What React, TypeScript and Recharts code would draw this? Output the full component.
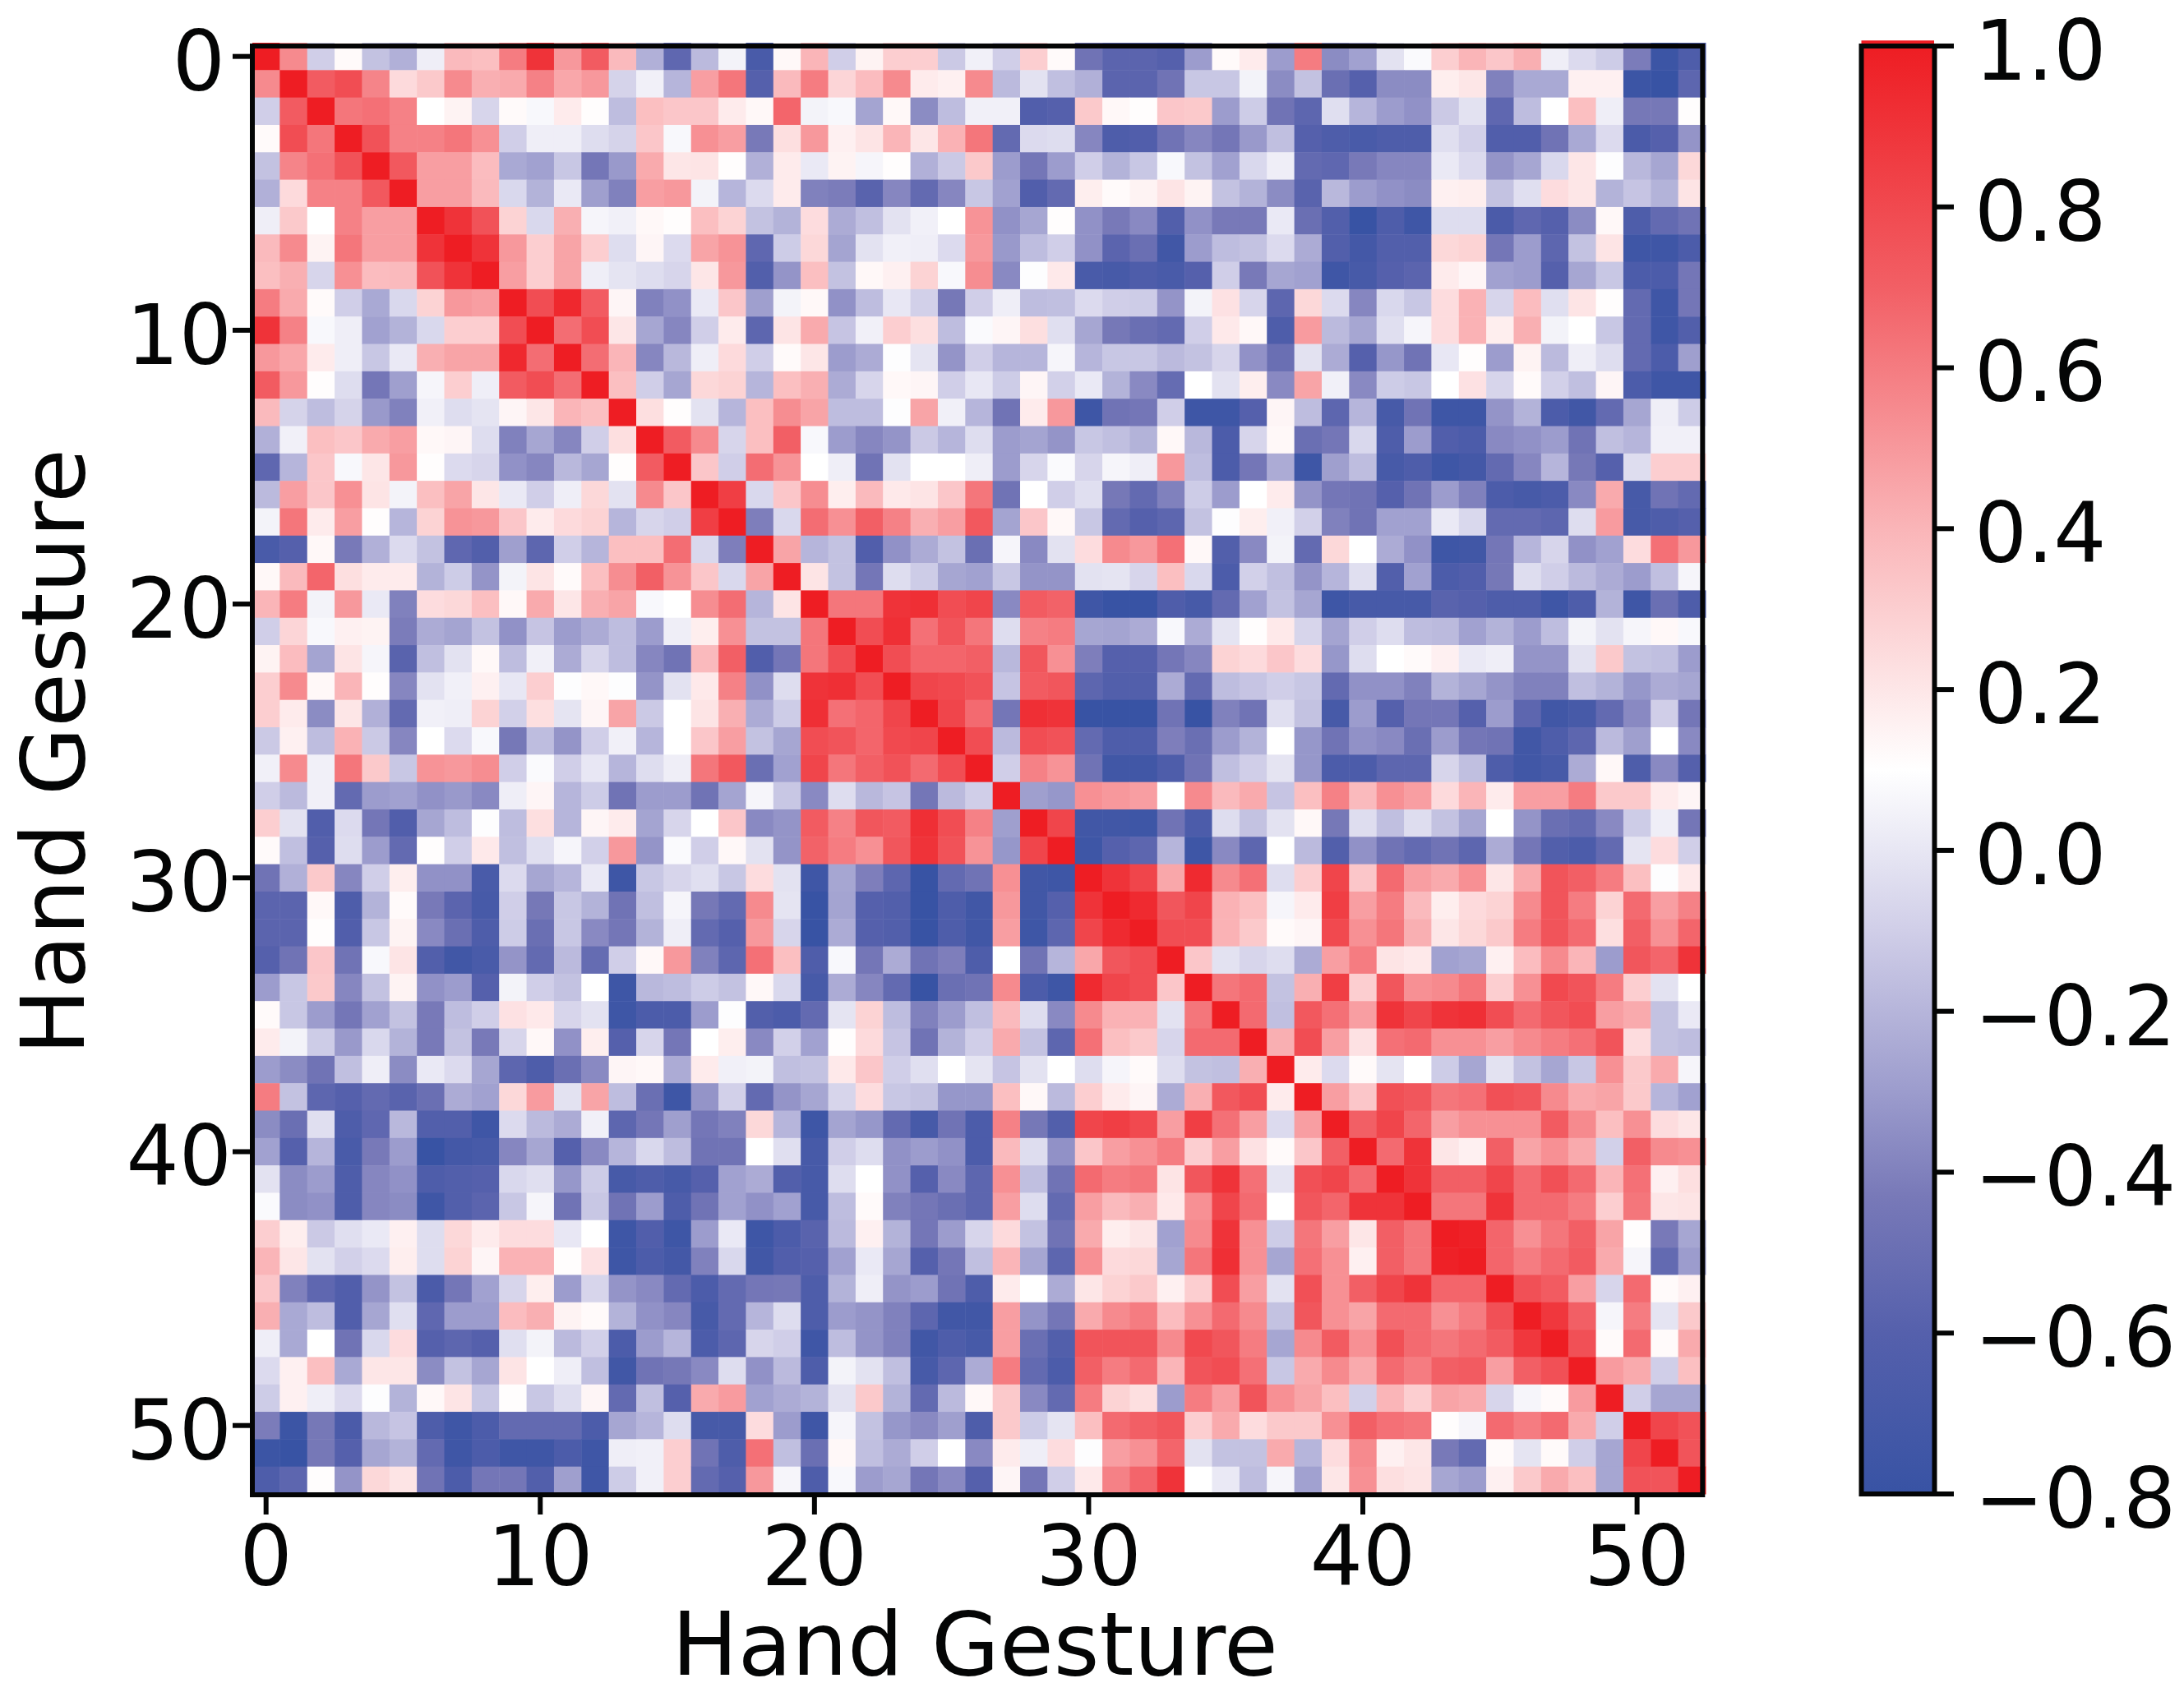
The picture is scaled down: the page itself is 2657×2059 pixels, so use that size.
import { Bar, BarChart, Cell, Label, ReferenceArea, Scatter, ScatterChart, XAxis, YAxis } from 'recharts';

const FONT = '"DejaVu Sans"';
const GESTURE_TICKS = [0, 10, 20, 30, 40, 50];
const COLORBAR_TICKS = [-0.8, -0.6, -0.4, -0.2, 0, 0.2, 0.4, 0.6, 0.8, 1];

// value -> colour stops
const STOP_VALUES = [-0.8, -0.6, -0.43, -0.3, -0.1, 0.1, 0.4, 0.7, 1];
const STOP_COLORS = ['#3853A4', '#5560AC', '#7879B8', '#9C9CCD', '#D0CEE8', '#FFFFFF', '#FAB5B8', '#F25F65', '#EE1D23'];

// upper triangle of the correlation matrix, each row starts on the diagonal
const upperRows: number[][] = [
  [1, .55, -.1, .12, -.15, -.22, .03, .38, .36, .6, .9, .5, .72, .38, -.22, -.55, -.18, .05, -.68, .13, .4, -.1, .15, .3, .3, -.12, .04, -.1, .3, .12, -.47, -.57, -.57, -.6, -.3, .12, .18, -.3, .6, -.36, -.28, -.02, .08, .3, .4, .33, .42, .03, -.05, -.11, -.42, -.77, -.65],
  [1, .72, .78, .57, .25, .32, .55, .42, .44, .58, .45, .5, -.08, .04, -.2, .48, .62, -.6, .38, .6, .27, .37, .55, .18, .16, .55, -.18, -.02, -.16, -.22, -.57, -.57, -.47, -.13, -.13, .05, -.36, -.15, -.5, -.6, -.36, -.36, .17, .2, -.4, -.25, -.25, .16, .16, -.77, -.8, -.56],
  [1, .62, .64, .58, .1, .15, -.07, .12, .07, .18, .11, -.17, .36, .33, .33, .18, .13, .68, .05, .07, -.27, .13, -.36, -.17, .04, .04, -.63, -.6, .32, .13, .11, .33, .32, -.3, -.11, -.47, -.56, -.03, -.2, -.3, -.34, -.12, -.02, -.55, -.17, .1, .36, .03, -.44, -.44, .11],
  [1, .76, .58, .58, .62, .53, -.1, .03, .03, -.04, -.08, .33, .07, .53, .48, -.43, .23, .5, .16, .21, .4, .2, .41, .62, -.53, -.05, -.04, -.38, -.65, -.63, -.47, -.38, -.45, -.31, -.16, -.6, -.65, -.68, -.65, -.65, -.03, -.09, -.63, -.63, -.47, -.25, -.05, -.67, -.6, -.33],
  [1, .73, .48, .48, .37, -.25, -.28, -.13, -.45, -.31, .44, .2, .21, .11, -.22, .18, .01, .15, .06, .11, -.22, -.12, .32, -.3, -.45, -.3, -.1, -.21, -.13, .07, -.15, -.28, -.06, .03, -.53, -.55, -.43, -.38, -.38, .01, -.05, -.33, -.26, -.06, .2, .09, -.19, -.26, .26],
  [1, .48, .48, .38, -.06, -.21, .01, -.29, -.4, .48, .5, .05, -.2, -.05, .18, -.4, -.42, -.58, -.38, -.53, -.38, -.13, -.28, -.63, -.53, .17, .12, .15, .21, .15, -.15, -.21, -.36, -.58, -.19, -.3, -.34, -.36, .16, .17, -.15, -.03, .24, .2, -.21, -.14, -.21, .21],
  [1, .9, .76, .28, -.06, .42, .06, .04, .13, .11, .36, .28, -.15, -.21, .24, -.24, -.16, -.02, .04, .1, .52, -.34, -.26, .11, -.34, -.43, -.37, -.62, -.34, -.43, -.43, .01, -.5, -.62, -.8, -.65, -.75, -.04, -.04, -.67, -.55, -.6, -.36, .13, -.65, -.53, -.47],
  [1, .9, .5, .3, .46, .3, -.04, .14, -.05, .46, .52, -.55, -.11, .26, -.27, -.02, .04, .03, -.05, .5, -.31, -.17, -.1, -.34, -.57, -.5, -.74, -.3, -.17, -.15, -.05, -.24, -.62, -.72, -.62, -.62, .26, .28, -.45, -.3, -.56, -.15, .21, -.75, -.75, -.66],
  [1, .48, .3, .46, .03, -.01, -.04, -.07, .2, .5, -.62, -.33, .36, -.15, .13, .16, .28, .07, .54, -.37, .09, .19, -.68, -.7, -.65, -.68, -.6, -.1, -.43, -.26, -.28, -.75, -.7, -.6, -.57, .18, .14, -.28, -.3, -.6, -.26, -.13, -.66, -.66, -.45],
  [1, .78, .95, .72, .14, -.4, -.34, .01, .33, -.29, .05, .13, -.34, -.17, 0, -.09, -.44, -.1, .03, -.17, -.16, -.05, -.1, -.11, -.33, .05, .22, -.07, -.56, .26, -.05, -.38, -.06, -.13, .24, .41, -.07, .37, -.03, .21, .11, -.53, -.75, -.45],
  [1, .65, .78, .2, -.26, -.38, -.1, .18, -.56, .21, .44, -.14, .04, .3, .23, -.17, .08, .14, .23, -.03, -.26, -.44, -.5, -.53, -.1, .19, .13, -.65, .49, -.18, -.26, -.03, .06, .24, .41, .17, .42, .05, .1, -.13, -.53, -.75, -.62],
  [1, .65, .4, -.38, -.19, .03, .25, -.1, .12, .2, -.3, -.24, .09, -.01, -.33, -.1, -.2, -.2, .06, -.2, -.13, -.13, -.18, -.15, -.07, -.34, -.5, -.02, -.24, -.6, -.32, -.47, 0, .11, -.3, .15, -.18, .03, -.04, -.53, -.66, -.29],
  [1, .36, -.1, -.26, .26, .28, -.2, .36, .42, -.24, -.07, .13, .14, -.1, 0, -.11, .14, -.09, .01, -.21, -.37, -.52, .1, -.02, .17, -.37, .46, .04, -.37, -.11, -.13, .1, .22, -.07, .12, -.09, -.16, .14, -.66, -.75, -.75],
  [1, .23, .11, -.02, -.2, .36, .54, .46, -.17, -.17, .09, .46, .04, -.2, -.47, .18, .5, -.76, -.47, -.45, -.1, -.76, -.76, -.6, .14, -.17, -.56, -.2, -.7, -.47, -.76, -.76, -.33, -.21, -.66, -.74, -.53, -.26, .03, -.11],
  [1, .72, .55, -.07, .36, .7, .07, -.3, -.38, -.33, -.12, -.2, -.04, -.3, -.27, -.33, -.13, -.16, -.21, .13, -.19, -.66, -.07, .13, -.5, -.45, -.06, -.65, -.3, -.63, -.66, -.37, -.34, -.3, -.47, -.16, -.2, .04, .04],
  [1, .33, -.1, .65, .52, .1, .03, -.47, -.02, .1, .1, .03, -.3, -.07, .08, -.07, .06, .03, .5, -.17, -.66, -.45, -.24, -.76, -.29, -.17, -.7, -.65, -.76, -.72, -.53, -.38, -.2, -.44, -.6, -.04, .3, .3],
  [1, .85, -.06, .33, .54, .17, .38, .19, .21, .33, .62, -.47, .1, -.1, -.03, -.44, -.53, -.4, -.11, -.3, .1, .18, -.33, -.45, -.47, -.6, -.47, -.3, -.4, -.66, -.7, -.66, -.37, .44, -.7, -.47, -.53],
  [1, -.41, -.06, .65, .53, .7, .58, .42, .48, .73, -.27, .33, .13, -.13, -.53, -.6, -.56, -.15, .09, .17, .04, -.09, -.4, -.47, -.28, -.28, .01, -.06, -.53, -.53, -.56, -.04, .49, -.7, -.65, -.6],
  [1, .46, -.2, -.15, -.63, -.34, -.24, -.15, -.5, .06, -.37, -.02, .24, .55, .5, .64, .13, -.62, -.37, .05, -.53, .26, .1, -.24, -.34, -.76, -.74, -.45, -.2, -.07, -.34, -.28, .24, .64, .5],
  [1, .21, -.15, -.45, -.04, -.11, -.26, -.28, -.13, -.33, -.33, -.02, -.01, -.07, .36, -.06, -.66, -.09, -.16, -.33, -.2, -.03, -.62, -.28, -.66, -.63, -.44, -.04, -.1, -.18, -.24, -.3, -.16, .06],
  [1, .62, .62, .9, .92, .78, .82, -.37, .72, .69, -.75, -.8, -.8, -.64, -.7, -.53, -.28, -.15, -.26, -.76, -.7, -.7, -.7, -.58, -.6, -.65, -.65, -.75, -.65, -.21, -.75, -.5, -.65],
  [1, .78, .92, .64, .75, .62, -.04, .58, .6, -.26, -.27, -.24, .07, -.24, -.01, .11, .19, -.07, -.27, -.1, -.04, -.17, -.18, -.28, -.21, -.3, -.17, .05, -.02, .06, .13, .07],
  [1, .78, .68, .68, .7, -.19, .74, .53, -.41, -.6, -.6, -.45, -.38, .28, .25, .33, .24, -.32, -.04, .1, .12, .16, .01, .03, -.33, -.33, -.02, .32, -.15, -.16, -.3],
  [1, .82, .8, .76, -.14, .72, .74, -.56, -.62, -.62, -.24, -.53, -.17, -.14, -.1, -.13, -.53, -.34, -.34, -.4, -.21, -.26, -.33, -.4, -.4, -.16, -.21, -.32, -.24, -.26],
  [1, .82, .66, -.45, .92, .9, -.8, -.8, -.8, -.47, -.8, -.4, -.47, -.03, -.15, -.7, -.3, -.6, -.45, -.45, -.6, -.3, -.56, -.74, -.7, -.53, -.37, -.1, -.45],
  [1, .78, -.18, .78, .76, -.53, -.65, -.65, -.41, -.5, -.3, -.21, .1, -.32, -.47, -.34, -.37, -.5, -.3, -.45, -.47, -.74, -.65, -.56, -.18, -.29, .1, -.37],
  [1, -.1, .58, .52, -.47, -.74, -.74, -.65, -.47, -.16, -.1, -.01, -.32, -.66, -.66, -.56, -.56, -.07, -.16, -.65, -.74, -.7, -.24, .13, -.65, -.37, -.6],
  [1, -.29, -.32, .53, .5, .48, .1, .55, .38, .44, -.14, .36, .58, .38, .53, .48, .25, .4, .18, .48, .48, .6, .32, .32, .18, .14],
  [1, .82, -.74, -.74, -.76, -.47, -.66, -.04, -.15, -.02, .13, -.44, -.04, -.16, -.04, -.15, -.26, .1, -.33, -.5, -.53, -.37, -.11, .03, -.45],
  [1, -.76, -.6, -.56, -.2, -.76, -.37, -.56, .1, -.18, -.62, -.34, -.47, -.53, -.47, -.56, -.24, -.45, -.62, -.66, -.53, -.01, .24, -.1],
  [1, .9, .82, .45, .94, .55, .64, -.04, .3, .82, .33, .66, .48, .44, .53, .2, .44, .75, .7, .6, .36, .09, .19],
  [1, .94, .74, .82, .41, .36, .06, .18, .85, .48, .6, .38, .17, .25, .28, .55, .75, .6, .28, .66, .48, .58],
  [1, .78, .78, .41, .32, .12, .14, .8, .53, .62, .42, .2, .26, .32, .6, .75, .66, .23, .7, .53, .68],
  [1, .33, -.02, -.07, -.04, -.24, .48, .6, .21, .19, -.28, -.26, .16, .37, .55, .4, -.3, .74, .68, .9],
  [1, .62, .66, -.15, .42, .85, .3, .74, .53, .55, .62, .3, .53, .8, .75, .6, .3, -.02, .1],
  [1, .66, -.16, .73, .64, .48, .9, .82, .9, .92, .78, .66, .74, .78, .48, .44, -.15, .01],
  [1, .42, .78, .48, .22, .64, .66, .53, .53, .48, .55, .6, .64, .75, .24, -.15, -.17],
  [1, .18, -.05, .12, -.01, .1, -.11, -.26, -.02, -.15, -.26, -.13, .53, .32, .44, .06],
  [1, .48, .33, .77, .74, .62, .64, .77, .74, .55, .44, .46, .32, -.2, -.28],
  [1, .7, .82, .68, .48, .53, .53, .53, .72, .55, .36, .53, .24, .2],
  [1, .66, .9, .2, .16, .7, .46, .53, .44, -.09, .7, .55, .53],
  [1, .9, .7, .7, .82, .66, .77, .66, .4, .64, .16, .23],
  [1, .62, .62, .9, .66, .66, .6, .3, .62, .2, .21],
  [1, .98, .68, .53, .62, .7, .46, .11, -.43, -.26],
  [1, .68, .6, .66, .72, .44, .06, -.53, -.3],
  [1, .77, .72, .48, -.07, .66, .12, .16],
  [1, .88, .7, .06, .6, -.01, .32],
  [1, .77, .12, .66, .12, .44],
  [1, .49, .44, -.1, .36],
  [1, -.1, -.26, -.26],
  [1, .82, .76],
  [1, .75],
  [1],
];

const hexToRgb = (hex: string) => [1, 3, 5].map((i) => parseInt(hex.slice(i, i + 2), 16));

function colorOf(v: number) {
  const clamped = Math.max(STOP_VALUES[0], Math.min(1, v));
  let i = 0;
  while (i < STOP_VALUES.length - 2 && clamped > STOP_VALUES[i + 1]) i++;
  const t = (clamped - STOP_VALUES[i]) / (STOP_VALUES[i + 1] - STOP_VALUES[i]);
  const a = hexToRgb(STOP_COLORS[i]);
  const b = hexToRgb(STOP_COLORS[i + 1]);
  const c = a.map((ch, k) => Math.round(ch + (b[k] - ch) * t));
  return `rgb(${c[0]},${c[1]},${c[2]})`;
}

// the matrix is symmetric, so mirror each upper value
const cells: { x: number; y: number; v: number }[] = [];
upperRows.forEach((row, r) => {
  row.forEach((v, i) => {
    cells.push({ x: r + i, y: r, v });
    if (i > 0) cells.push({ x: r, y: r + i, v });
  });
});

const PLOT_W = 1768;
const PLOT_H = 1766;
const CELL_W = PLOT_W / 53;
const CELL_H = PLOT_H / 53;
const INK = '#040505';
const TICK_SIZE = 101;
const TITLE_SIZE = 107;

const HeatCell = (props: any) => {
  const { cx, cy, payload } = props;
  return (
    <rect
      x={cx - CELL_W / 2}
      y={cy - CELL_H / 2}
      width={CELL_W + 0.5}
      height={CELL_H + 0.5}
      fill={colorOf(payload.v)}
    />
  );
};

const NoMark = () => null;

const tickLine = { stroke: INK, strokeWidth: 6 };
const xTickStyle = { fontSize: TICK_SIZE, fill: INK, fontFamily: FONT };

const formatBarTick = (v: number) => (v < 0 ? `\u2212${Math.abs(v).toFixed(1)}` : v.toFixed(1));

// the reference's vertical tick labels sit a little under their tick marks
const SideTick = ({ x, y, payload, anchor, format, zeroShift = 0 }: any) => (
  <text
    x={payload.value === 0 ? x + zeroShift : x}
    y={y + TICK_SIZE * 0.365 + 4}
    textAnchor={anchor}
    fontSize={TICK_SIZE}
    fill={INK}
    fontFamily={FONT}
  >
    {format ? format(payload.value) : payload.value}
  </text>
);

const colorbarData = [{ name: 'corr', range: [-0.8, 1] }];

export default function App() {
  return (
    <div style={{ position: 'absolute', left: 0, top: 0, width: 2657, height: 2059, background: '#fff', overflow: 'hidden' }}>
      <div style={{ position: 'absolute', left: 0, top: 0 }}>
        <ScatterChart
          width={2200}
          height={2059}
          margin={{ top: 52, right: 2200 - 307 - PLOT_W, bottom: 0, left: 0 }}
        >
          <XAxis
            type="number"
            dataKey="x"
            domain={[-0.5, 52.5]}
            ticks={GESTURE_TICKS}
            interval={0}
            height={2059 - 52 - PLOT_H}
            axisLine={false}
            tickLine={tickLine}
            tickSize={25}
            tickMargin={14}
            tick={xTickStyle}
          >
            <Label
              value="Hand Gesture"
              position="insideBottom"
              offset={21}
              dx={-5}
              style={{ fontSize: TITLE_SIZE, fill: INK, fontFamily: FONT }}
            />
          </XAxis>
          <YAxis
            type="number"
            dataKey="y"
            domain={[-0.5, 52.5]}
            reversed
            ticks={GESTURE_TICKS}
            interval={0}
            width={307}
            axisLine={false}
            tickLine={tickLine}
            tickSize={24}
            tickMargin={1}
            tick={<SideTick anchor="end" zeroShift={-8} />}
          >
            <Label
              value="Hand Gesture"
              angle={-90}
              position="insideLeft"
              offset={64}
              dy={-20}
              style={{ fontSize: TITLE_SIZE, fill: INK, fontFamily: FONT, textAnchor: 'middle' }}
            />
          </YAxis>
          <Scatter data={cells} shape={HeatCell} isAnimationActive={false} />
        </ScatterChart>
      </div>
      {/* spine goes in its own layer so it stays on top of the cells */}
      <div style={{ position: 'absolute', left: 0, top: 0, pointerEvents: 'none' }}>
        <ScatterChart
          width={2200}
          height={2059}
          margin={{ top: 52, right: 2200 - 307 - PLOT_W, bottom: 2059 - 52 - PLOT_H, left: 307 }}
        >
          <XAxis type="number" dataKey="x" domain={[-0.5, 52.5]} hide />
          <YAxis type="number" dataKey="y" domain={[-0.5, 52.5]} reversed hide />
          <Scatter data={[{ x: 0, y: 0 }, { x: 52, y: 52 }]} shape={NoMark} isAnimationActive={false} />
          <ReferenceArea
            x1={-0.5}
            x2={52.39}
            y1={-0.38}
            y2={52.53}
            ifOverflow="visible"
            fill="none"
            fillOpacity={0}
            strokeOpacity={1}
            stroke={INK}
            strokeWidth={6}
          />
        </ScatterChart>
      </div>
      <div style={{ position: 'absolute', left: 2200, top: 0 }}>
        <BarChart
          width={457}
          height={2059}
          data={colorbarData}
          margin={{ top: 56, right: 0, bottom: 241, left: 64.5 }}
          barCategoryGap={0}
        >
          <defs>
            <linearGradient id="cbGradient" x1="0" y1="1" x2="0" y2="0">
              {STOP_VALUES.map((v, i) => (
                <stop key={v} offset={(v + 0.8) / 1.8} stopColor={STOP_COLORS[i]} />
              ))}
            </linearGradient>
          </defs>
          <XAxis dataKey="name" hide />
          <YAxis
            orientation="right"
            type="number"
            domain={[-0.8, 1]}
            ticks={COLORBAR_TICKS}
            interval={0}
            width={304}
            axisLine={false}
            tickLine={tickLine}
            tickSize={24}
            tickMargin={25}
            tick={<SideTick anchor="start" format={formatBarTick} />}
          />
          <ReferenceArea y1={1} y2={1.007} ifOverflow="visible" fill="#EE1D23" fillOpacity={1} />
          <Bar dataKey="range" isAnimationActive={false} stroke={INK} strokeWidth={6}>
            <Cell fill="url(#cbGradient)" />
          </Bar>
        </BarChart>
      </div>
    </div>
  );
}
